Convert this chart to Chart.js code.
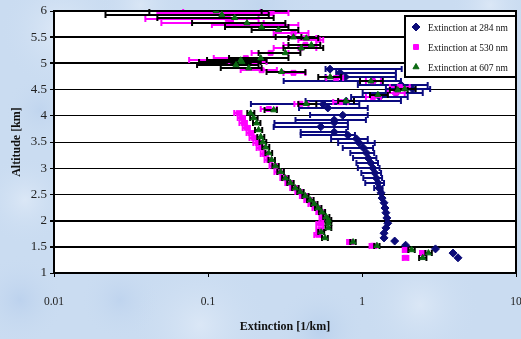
<!DOCTYPE html>
<html>
<head>
<meta charset="utf-8">
<script src="https://cdn.jsdelivr.net/npm/chart.js@4.4.0/dist/chart.umd.min.js"></script>
<style>
  html, body { margin: 0; padding: 0; background: #cadcf1; }
  canvas { display: block; }
</style>
</head>
<body>
<canvas id="chart" width="521" height="339"></canvas>
<script>
// ── Data ────────────────────────────────────────────────────────────────────

const xTicks = [0.01, 0.1, 1, 10];

// 284 nm: altitude [km], extinction [1/km], error bar ends
const alt284 = [1.29,1.38,1.46,1.53,1.61,1.67,1.76,1.86,1.95,2.05,2.15,2.24,2.34,2.43,2.53,
  2.62,2.72,2.81,2.91,3.00,3.10,3.19,3.29,3.39,3.48,3.56,3.63,3.69,3.79,3.87,
  3.92,4.01,4.15,4.22,4.28,4.36,4.43,4.51,4.59,4.66,4.74,4.82,4.89];
const ext284 = [4.2,3.9,3.0,1.92,1.63,1.39,1.39,1.43,1.47,1.45,1.43,1.41,1.39,1.35,1.33,
  1.29,1.27,1.24,1.21,1.18,1.14,1.10,1.07,1.02,0.96,0.92,0.81,0.66,0.54,0.66,
  0.66,0.75,0.60,0.56,0.79,1.30,1.66,2.13,1.79,1.18,0.78,0.72,0.62];
const lo284 = [null,null,null,null,null,null,null,null,null,null,null,null,null,null,null,
  1.2,1.05,1.02,0.99,0.94,0.92,0.875,0.84,0.75,0.70,0.63,0.40,0.40,0.267,0.27,
  0.37,0.46,0.39,0.19,0.43,0.85,1.01,1.43,0.94,0.31,0.58,0.68,0.58];
const hi284 = [null,null,null,null,null,null,null,null,null,null,null,null,null,null,null,
  1.36,1.39,1.35,1.33,1.30,1.27,1.24,1.20,1.18,1.21,1.09,0.90,0.79,0.81,0.81,
  1.06,1.09,1.09,0.96,1.79,1.98,2.48,2.77,2.67,1.79,1.66,1.66,1.81];

// 530 nm
const alt530 = [1.29,1.38,1.44,1.52,1.59,1.73,1.82,1.94,2.05,2.16,2.24,2.32,2.39,2.47,2.55,
  2.62,2.72,2.81,2.93,3.04,3.16,3.27,3.39,3.48,3.58,3.67,3.77,3.86,3.96,4.05,
  4.13,4.23,4.26,4.36,4.44,4.55,4.66,4.72,4.82,4.87,5.03,5.06,5.10,5.20,5.29,
  5.35,5.45,5.48,5.58,5.73,5.73,5.78,5.85,5.96,5.96,5.96,5.98];
const ext530 = [1.92,2.48,1.92,1.18,0.837,0.52,0.536,0.536,0.56,0.536,0.506,0.476,0.448,0.42,0.392,
  0.363,0.338,0.313,0.287,0.267,0.248,0.234,0.22,0.21,0.198,0.189,0.179,0.171,0.166,0.158,
  0.248,0.398,0.721,1.177,1.657,1.758,1.177,0.679,0.359,0.223,0.201,0.137,0.176,0.255,0.398,
  0.429,0.52,0.429,0.359,0.198,0.287,0.141,0.1345,0.137,0.154,0.259,0.171];
const lo530 = [1.84,2.38,1.84,1.12,0.8,0.49,0.505,0.505,0.53,0.505,0.477,0.449,0.422,0.395,0.369,
  0.342,0.318,0.295,0.27,0.251,0.233,0.22,0.207,0.197,0.186,0.178,0.168,0.16,0.156,0.148,
  0.22,0.364,0.65,1.06,1.472,1.517,1.06,0.586,0.309,0.163,0.137,0.0754,0.109,0.192,0.267,
  0.309,0.386,0.333,0.267,0.106,0.198,0.0498,0.0392,0.0469,0.0577,0.184,0.069];
const hi530 = [2.0,2.58,2.0,1.24,0.875,0.545,0.56,0.56,0.585,0.56,0.53,0.498,0.469,0.44,0.41,
  0.38,0.354,0.328,0.3,0.28,0.26,0.245,0.23,0.22,0.207,0.198,0.187,0.179,0.174,0.165,
  0.28,0.449,0.812,1.327,1.894,2.04,1.327,0.754,0.429,0.28,0.24,0.184,0.22,0.333,0.505,
  0.505,0.56,0.505,0.449,0.267,0.386,0.23,0.213,0.198,0.207,0.333,0.22];

// 607 nm
const alt607 = [1.29,1.38,1.44,1.52,1.59,1.67,1.78,1.86,1.95,2.01,2.07,2.16,2.24,2.32,2.39,
  2.47,2.55,2.62,2.72,2.81,2.93,3.04,3.16,3.29,3.40,3.50,3.60,3.73,3.86,3.96,4.05,
  4.11,4.23,4.28,4.40,4.49,4.51,4.66,4.74,4.84,4.91,4.97,5.03,5.06,5.10,5.20,
  5.29,5.35,5.48,5.50,5.64,5.69,5.77,5.87,5.93,6.00];
const ext607 = [2.48,2.70,2.10,1.25,0.875,0.575,0.543,0.604,0.604,0.604,0.586,0.55,0.52,0.49,0.462,
  0.429,0.398,0.369,0.343,0.318,0.296,0.274,0.259,0.248,0.237,0.227,0.220,0.213,0.207,0.198,0.189,
  0.267,0.435,0.788,1.268,1.708,1.894,1.143,0.622,0.30,0.184,0.152,0.166,0.163,0.220,0.318,
  0.404,0.469,0.435,0.359,0.287,0.223,0.179,0.149,0.123,0.113];
const lo607 = [2.35,2.58,2.0,1.2,0.84,0.55,0.52,0.58,0.58,0.58,0.56,0.525,0.495,0.468,0.44,
  0.41,0.38,0.352,0.327,0.303,0.282,0.262,0.247,0.236,0.225,0.216,0.209,0.202,0.196,0.188,0.18,
  0.233,0.386,0.70,1.127,1.517,1.657,0.971,0.52,0.24,0.121,0.0849,0.0875,0.0986,0.137,0.213,
  0.309,0.333,0.333,0.275,0.192,0.129,0.0788,0.0469,0.0216,0.0416];
const hi607 = [2.62,2.84,2.2,1.3,0.91,0.6,0.568,0.632,0.632,0.632,0.614,0.576,0.545,0.514,0.485,
  0.45,0.418,0.388,0.36,0.334,0.311,0.288,0.272,0.261,0.25,0.239,0.232,0.225,0.219,0.21,0.2,
  0.280,0.505,0.887,1.472,1.98,2.23,1.365,0.732,0.429,0.223,0.213,0.22,0.24,0.333,0.398,
  0.56,0.536,0.52,0.404,0.386,0.333,0.318,0.267,0.248,0.223];

const SERIF = '"Liberation Serif", "Times New Roman", serif';
const thickGrid = [1.5, 2, 5, 5.5];

// ── Plugins ─────────────────────────────────────────────────────────────────

function points(alt, ext) {
  return alt.map((a, i) => ({ x: ext[i], y: a }));
}

// pale blue mottled page, white plot area, top/right frame
const plotFrame = {
  id: "plotFrame",
  beforeDraw(chart) {
    const { ctx, chartArea: a, width, height } = chart;
    ctx.save();
    ctx.fillStyle = "#cadcf1";
    ctx.fillRect(0, 0, width, height);
    const blobs = [
      [60, 30, 60, "rgba(235,242,251,0.6)"], [200, 325, 70, "rgba(235,242,251,0.5)"],
      [25, 200, 45, "rgba(235,242,251,0.5)"], [420, 305, 60, "rgba(235,242,251,0.5)"],
      [490, 5, 40, "rgba(235,242,251,0.5)"], [320, 330, 45, "rgba(170,198,232,0.5)"],
      [20, 300, 45, "rgba(175,200,234,0.5)"], [120, 300, 40, "rgba(175,200,234,0.4)"],
      [260, 5, 60, "rgba(185,208,236,0.5)"], [40, 110, 35, "rgba(180,204,235,0.45)"],
      [500, 200, 30, "rgba(235,242,251,0.5)"], [140, 5, 40, "rgba(235,242,251,0.45)"],
    ];
    blobs.forEach(([bx, by, r, c]) => {
      const g = ctx.createRadialGradient(bx, by, 0, bx, by, r);
      g.addColorStop(0, c);
      g.addColorStop(1, "rgba(202,220,241,0)");
      ctx.fillStyle = g;
      ctx.fillRect(bx - r, by - r, 2 * r, 2 * r);
    });
    ctx.fillStyle = "#fff";
    ctx.fillRect(a.left, a.top, a.right - a.left, a.bottom - a.top);
    ctx.restore();
  },
  beforeDatasetsDraw(chart) {
    const { ctx, chartArea: a } = chart;
    ctx.save();
    ctx.strokeStyle = "#000";
    ctx.lineWidth = 2;
    ctx.beginPath();
    ctx.moveTo(a.left, a.top);
    ctx.lineTo(a.right, a.top);
    ctx.lineTo(a.right, a.bottom);
    ctx.stroke();
    ctx.restore();
  },
};

// horizontal error bars, drawn just under each dataset's markers
const errorBars = {
  id: "errorBars",
  beforeDatasetDraw(chart, args) {
    const ds = chart.data.datasets[args.index];
    if (!ds.errLo) return;
    const { ctx, chartArea: a, scales: { x, y } } = chart;
    ctx.save();
    ctx.beginPath();
    ctx.rect(a.left, a.top - 2, a.right - a.left, a.bottom - a.top + 2);
    ctx.clip();
    ctx.strokeStyle = ds.barColor;
    ctx.lineWidth = 2;
    ds.data.forEach((p, i) => {
      const lo = ds.errLo[i], hi = ds.errHi[i];
      if (lo == null || hi == null) return;
      const py = Math.round(y.getPixelForValue(p.y));
      const x0 = x.getPixelForValue(lo), x1 = x.getPixelForValue(hi);
      ctx.beginPath();
      ctx.moveTo(x0, py); ctx.lineTo(x1, py);
      ctx.moveTo(x0, py - 3); ctx.lineTo(x0, py + 3);
      ctx.moveTo(x1, py - 3); ctx.lineTo(x1, py + 3);
      ctx.stroke();
    });
    ctx.restore();
  },
};

// boxed legend inside the top right of the plot
const boxLegend = {
  id: "boxLegend",
  afterDraw(chart) {
    const { ctx, chartArea: a } = chart;
    const w = 111, h = 61, left = a.right - w, top = a.top + 5;
    ctx.save();
    ctx.fillStyle = "#fff";
    ctx.fillRect(left, top, w, h);
    ctx.strokeStyle = "#000";
    ctx.lineWidth = 2;
    ctx.strokeRect(left, top, w, h);
    ctx.font = "9.5px " + SERIF;
    ctx.textBaseline = "middle";
    chart.data.datasets.forEach((ds, row) => {
      const cy = top + 11 + row * 20;
      ctx.fillStyle = ds.backgroundColor;
      ctx.strokeStyle = ds.borderColor;
      ctx.lineWidth = 1;
      Chart.helpers.drawPoint(ctx, { pointStyle: ds.pointStyle, radius: ds.pointRadius, rotation: 0, borderWidth: 1 }, left + 11, cy);
      ctx.fillStyle = "#111";
      ctx.fillText(ds.label, left + 23, cy + 1);
    });
    ctx.restore();
  },
};

// ── Chart ───────────────────────────────────────────────────────────────────

new Chart(document.getElementById("chart"), {
  type: "scatter",
  data: {
    datasets: [
      {
        label: "Extinction at 284 nm",
        data: points(alt284, ext284), errLo: lo284, errHi: hi284,
        pointStyle: "rectRot", pointRadius: 4,
        backgroundColor: "#0b0b78", borderColor: "#0b0b78", borderWidth: 1,
        barColor: "#0b0b80", order: 3,
      },
      {
        label: "Extinction at 530 nm",
        data: points(alt530, ext530), errLo: lo530, errHi: hi530,
        pointStyle: "rect", pointRadius: 3.5,
        backgroundColor: "#ff00ff", borderColor: "#ff00ff", borderWidth: 1,
        barColor: "#ff00ff", order: 2,
      },
      {
        label: "Extinction at 607 nm",
        data: points(alt607, ext607), errLo: lo607, errHi: hi607,
        pointStyle: "triangle", pointRadius: 3.5,
        backgroundColor: "#0b6a12", borderColor: "#0b6a12", borderWidth: 1,
        barColor: "#000", order: 1,
      },
    ],
  },
  options: {
    responsive: false,
    animation: false,
    devicePixelRatio: 1,
    layout: { padding: { top: 11, right: 3, left: 0, bottom: 0 } },
    plugins: { legend: { display: false }, tooltip: { enabled: false } },
    scales: {
      x: {
        type: "logarithmic",
        min: 0.01, max: 10,
        afterBuildTicks: (s) => { s.ticks = xTicks.map((v) => ({ value: v })); },
        afterFit: (s) => { s.height = 66; s.paddingLeft = 0; s.paddingRight = 0; },
        border: { color: "#000", width: 2 },
        grid: { drawOnChartArea: false, color: "#000", tickLength: 4, lineWidth: 1 },
        ticks: {
          autoSkip: false, maxRotation: 0, padding: 18, color: "#222",
          font: { family: SERIF, size: 11.5 },
          callback: (v) => String(v),
        },
        title: {
          display: true, text: "Extinction [1/km]", color: "#111",
          font: { family: SERIF, size: 12, weight: "bold" },
          padding: { top: 0, bottom: 5 },
        },
      },
      y: {
        min: 1, max: 6,
        afterFit: (s) => { s.width = 54; s.paddingTop = 0; s.paddingBottom = 0; },
        border: { color: "#000", width: 2 },
        grid: {
          color: "#000", tickLength: 4,
          lineWidth: (c) => (thickGrid.includes(c.tick && c.tick.value) ? 2 : 1),
        },
        ticks: {
          stepSize: 0.5, padding: 3, color: "#222",
          font: { family: SERIF, size: 13 },
          callback: (v) => String(v),
        },
        title: {
          display: true, text: "Altitude [km]", color: "#111",
          font: { family: SERIF, size: 12, weight: "bold" },
          padding: { top: 10, bottom: 0 },
        },
      },
    },
  },
  plugins: [plotFrame, errorBars, boxLegend],
});
</script>
</body>
</html>
